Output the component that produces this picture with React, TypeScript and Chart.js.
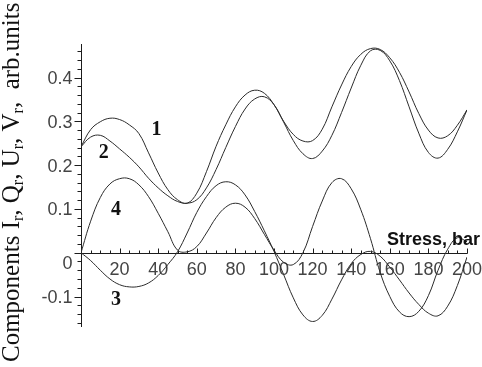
import React, { useEffect, useRef } from "react";
import { Chart, registerables } from "chart.js";

Chart.register(...registerables);

// ---- data ----
const stress = [
  0, 5, 10, 15, 20, 25, 30, 35, 40, 45, 50, 55, 60, 65, 70, 75, 80, 85, 90, 95, 100,
  105, 110, 115, 120, 125, 130, 135, 140, 145, 150, 155, 160, 165, 170, 175, 180, 185, 190, 195, 200,
];
// curve 1
const compI = [
  0.242, 0.281, 0.299, 0.307, 0.304, 0.292, 0.272, 0.228, 0.182, 0.144, 0.121, 0.113, 0.136, 0.185, 0.243,
  0.292, 0.333, 0.360, 0.371, 0.364, 0.338, 0.300, 0.270, 0.255, 0.256, 0.282, 0.333, 0.383, 0.425, 0.453,
  0.466, 0.464, 0.445, 0.412, 0.367, 0.318, 0.280, 0.262, 0.267, 0.291, 0.326,
];
// curve 2
const compQ = [
  0.242, 0.264, 0.268, 0.255, 0.237, 0.218, 0.196, 0.170, 0.148, 0.130, 0.117, 0.113, 0.121, 0.148, 0.190,
  0.240, 0.288, 0.328, 0.351, 0.356, 0.338, 0.298, 0.256, 0.226, 0.215, 0.232, 0.268, 0.320, 0.376, 0.428,
  0.461, 0.462, 0.438, 0.393, 0.333, 0.273, 0.229, 0.216, 0.236, 0.276, 0.326,
];
// curve 3
const compU = [
  0, -0.018, -0.040, -0.060, -0.073, -0.078, -0.077, -0.069, -0.052, -0.027, 0.002, 0.045, 0.092, 0.128,
  0.153, 0.162, 0.155, 0.132, 0.094, 0.050, 0.003, -0.050, -0.103, -0.142, -0.157, -0.143, -0.106, -0.062,
  -0.025, -0.004, 0.003, -0.008, -0.033, -0.062, -0.092, -0.118, -0.138, -0.144, -0.122, -0.075, -0.01,
];
// curve 4
const compV = [
  0, 0.072, 0.126, 0.157, 0.169, 0.169, 0.155, 0.128, 0.090, 0.048, 0.006, 0.002, 0.014, 0.045, 0.080,
  0.104, 0.113, 0.104, 0.078, 0.042, 0.006, -0.022, -0.027, 0.0, 0.060, 0.118, 0.160, 0.169, 0.146, 0.098,
  0.032, -0.045, -0.100, -0.135, -0.146, -0.134, -0.098, -0.040, 0.008, 0.034, 0.025,
];

const curveNames = ["1", "2", "3", "4"];
const curveNamePos = [
  [39.1, 0.28],
  [11.8, 0.228],
  [18.1, -0.107],
  [18.1, 0.0975],
];

const xMajorTicks = [20, 40, 60, 80, 100, 120, 140, 160, 180, 200];
const yMajorTicks = [0.4, 0.3, 0.2, 0.1, 0, -0.1];
const yMajorText = ["0.4", "0.3", "0.2", "0.1", "0", "-0.1"];
const xMinorStep = 5;
const yMinorStep = 0.02;

const xTitle = "Stress, bar";
const yTitleParts: [string, boolean][] = [
  ["Components I", false],
  ["r", true],
  [", Q", false],
  ["r", true],
  [", U", false],
  ["r", true],
  [", V", false],
  ["r", true],
  [",  arb.units", false],
];

const X_MIN = 0;
const X_MAX = 200;
const Y_MIN = -0.1696;
const Y_MAX = 0.4765;

const INK = "#1c1c1c";
const LINE = "#2b2b2b";

const axesPlugin = {
  id: "mapleAxes",
  beforeDatasetsDraw(chart: any) {
    const ctx = chart.ctx as CanvasRenderingContext2D;
    const xs = chart.scales.x;
    const ys = chart.scales.y;
    const area = chart.chartArea;
    const x0 = Math.round(xs.getPixelForValue(0)) + 0.5;
    const y0 = Math.round(ys.getPixelForValue(0)) + 0.5;
    ctx.save();
    ctx.strokeStyle = INK;
    ctx.lineWidth = 1;
    ctx.beginPath();
    // y axis
    ctx.moveTo(x0, area.top);
    ctx.lineTo(x0, area.bottom);
    // x axis
    ctx.moveTo(x0, y0);
    ctx.lineTo(Math.round(xs.getPixelForValue(X_MAX)) + 0.5, y0);
    // y ticks
    const kStart = Math.ceil(Y_MIN / yMinorStep);
    const kEnd = Math.floor(Y_MAX / yMinorStep);
    for (let k = kStart; k <= kEnd; k++) {
      const py = Math.round(ys.getPixelForValue(k * yMinorStep)) + 0.5;
      const len = k % 5 === 0 ? 7 : 4;
      ctx.moveTo(x0 - len, py);
      ctx.lineTo(x0, py);
    }
    // x ticks
    for (let v = xMinorStep; v <= X_MAX + 1e-9; v += xMinorStep) {
      const px = Math.round(xs.getPixelForValue(v)) + 0.5;
      const len = v % 20 === 0 ? 5 : 3;
      ctx.moveTo(px, y0);
      ctx.lineTo(px, y0 - len);
    }
    ctx.stroke();

    // tick labels
    ctx.fillStyle = "#444";
    ctx.font = "18px 'Liberation Sans', Arial, sans-serif";
    ctx.textBaseline = "alphabetic";
    ctx.textAlign = "center";
    for (const v of xMajorTicks) {
      ctx.fillText(String(v), xs.getPixelForValue(v), y0 + 21);
    }
    ctx.textAlign = "right";
    yMajorTicks.forEach((v, i) => {
      const py = ys.getPixelForValue(v);
      const shift = v === 0 ? 9.5 : 0;
      ctx.fillText(yMajorText[i], x0 - 9, py + 6.4 + shift);
    });
    ctx.restore();
  },
  afterDatasetsDraw(chart: any) {
    const ctx = chart.ctx as CanvasRenderingContext2D;
    const xs = chart.scales.x;
    const ys = chart.scales.y;
    ctx.save();
    // curve numbers
    ctx.fillStyle = "#111";
    ctx.font = "bold 20px 'Liberation Serif', 'Times New Roman', serif";
    ctx.textAlign = "center";
    ctx.textBaseline = "middle";
    curveNames.forEach((n, i) => {
      const [vx, vy] = curveNamePos[i];
      ctx.fillText(n, xs.getPixelForValue(vx), ys.getPixelForValue(vy));
    });
    // x title
    ctx.font = "bold 18px 'Liberation Sans', Arial, sans-serif";
    ctx.textAlign = "left";
    ctx.textBaseline = "alphabetic";
    ctx.fillText(xTitle, 387, 244.5);
    // y title (rotated, with subscripts)
    ctx.translate(18.5, 362);
    ctx.rotate(-Math.PI / 2);
    let cx = 0;
    for (const [t, sub] of yTitleParts) {
      ctx.font = sub
        ? "16px 'Liberation Serif', 'Times New Roman', serif"
        : "25px 'Liberation Serif', 'Times New Roman', serif";
      ctx.fillText(t, cx, sub ? 4.5 : 0);
      cx += ctx.measureText(t).width;
    }
    ctx.restore();
  },
};

export default function App() {
  const canvasRef = useRef<HTMLCanvasElement | null>(null);

  useEffect(() => {
    document.body.style.margin = "0";
    const canvas = canvasRef.current;
    if (!canvas) return;
    const mk = (vals: number[]) => stress.map((x, i) => ({ x, y: vals[i] }));
    const series = [compI, compQ, compU, compV];
    const chart = new Chart(canvas, {
      type: "line",
      data: {
        datasets: series.map((vals, i) => ({
          label: curveNames[i],
          data: mk(vals),
          borderColor: LINE,
          borderWidth: 1,
          pointRadius: 0,
          tension: 0.4,
          fill: false,
        })),
      },
      options: {
        responsive: false,
        animation: false,
        devicePixelRatio: 1,
        layout: { padding: { left: 81, right: 15, top: 44, bottom: 40 } },
        plugins: {
          legend: { display: false },
          tooltip: { enabled: false },
          title: { display: false },
        },
        scales: {
          x: { type: "linear", min: X_MIN, max: X_MAX, display: false },
          y: { type: "linear", min: Y_MIN, max: Y_MAX, display: false },
        },
      },
      plugins: [axesPlugin],
    });
    return () => chart.destroy();
  }, []);

  return (
    <div style={{ position: "absolute", left: 0, top: 0, width: 482, height: 367, background: "#fff" }}>
      <canvas ref={canvasRef} width={482} height={367} style={{ display: "block", width: 482, height: 367 }} />
    </div>
  );
}
